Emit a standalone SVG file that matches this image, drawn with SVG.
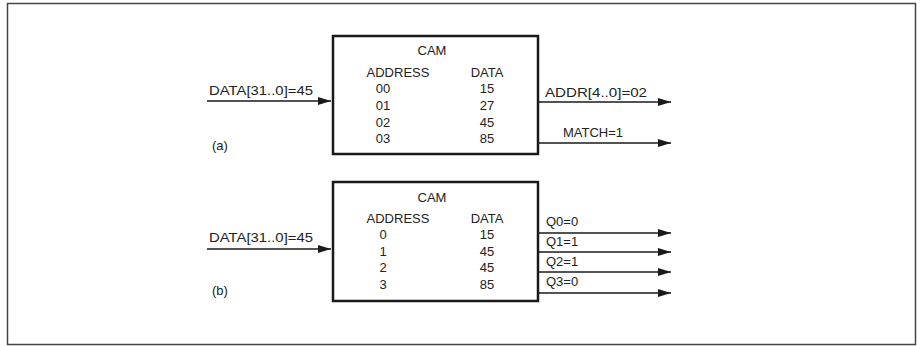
<svg xmlns="http://www.w3.org/2000/svg" width="924" height="346" viewBox="0 0 924 346">
<style>
text{font-family:"Liberation Sans",Arial,sans-serif;font-size:13px;fill:#222}
.m{text-anchor:middle}
.box{fill:#fff;stroke:#1a1a1a;stroke-width:2.5}
.w{stroke:#1a1a1a;stroke-width:1.6;fill:none}
</style>
<defs>
<marker id="ah" markerUnits="userSpaceOnUse" markerWidth="14" markerHeight="10" refX="13" refY="5" orient="auto">
<path d="M0,1 L13,5 L0,9 Z" fill="#1a1a1a"/>
</marker>
</defs>
<rect x="7.5" y="3.5" width="908" height="341" fill="#fff" stroke="#444" stroke-width="1.5"/>
<g id="connectors">
<line class="w" x1="207" y1="101" x2="331" y2="101" marker-end="url(#ah)"/>
<line class="w" x1="538" y1="102" x2="671" y2="102" marker-end="url(#ah)"/>
<line class="w" x1="538" y1="143" x2="671" y2="143" marker-end="url(#ah)"/>
<line class="w" x1="207" y1="249" x2="331" y2="249" marker-end="url(#ah)"/>
<line class="w" x1="538" y1="233" x2="671" y2="233" marker-end="url(#ah)"/>
<line class="w" x1="538" y1="252" x2="671" y2="252" marker-end="url(#ah)"/>
<line class="w" x1="538" y1="272" x2="671" y2="272" marker-end="url(#ah)"/>
<line class="w" x1="538" y1="293" x2="671" y2="293" marker-end="url(#ah)"/>
</g>
<g id="labels">
<text x="209" y="95" textLength="104" lengthAdjust="spacingAndGlyphs">DATA[31..0]=45</text>
<text x="545" y="97" textLength="102" lengthAdjust="spacingAndGlyphs">ADDR[4..0]=02</text>
<text x="563" y="137">MATCH=1</text>
<text x="212" y="150">(a)</text>
<text x="209" y="242" textLength="104" lengthAdjust="spacingAndGlyphs">DATA[31..0]=45</text>
<text x="546" y="226">Q0=0</text>
<text x="546" y="246">Q1=1</text>
<text x="546" y="266">Q2=1</text>
<text x="546" y="286">Q3=0</text>
<text x="212" y="295">(b)</text>
</g>
<g id="cam-a">
<rect class="box" x="333" y="36" width="205" height="118"/>
<text class="m" x="432" y="55">CAM</text>
<text class="m" x="398" y="77">ADDRESS</text>
<text class="m" x="487" y="77">DATA</text>
<text class="m" x="383" y="93">00</text>
<text class="m" x="383" y="110">01</text>
<text class="m" x="383" y="127">02</text>
<text class="m" x="383" y="143">03</text>
<text class="m" x="487" y="93">15</text>
<text class="m" x="487" y="110">27</text>
<text class="m" x="487" y="127">45</text>
<text class="m" x="487" y="143">85</text>
</g>
<g id="cam-b">
<rect class="box" x="333" y="182" width="205" height="119"/>
<text class="m" x="432" y="202">CAM</text>
<text class="m" x="398" y="223">ADDRESS</text>
<text class="m" x="487" y="223">DATA</text>
<text class="m" x="383" y="239">0</text>
<text class="m" x="383" y="256">1</text>
<text class="m" x="383" y="272">2</text>
<text class="m" x="383" y="289">3</text>
<text class="m" x="487" y="239">15</text>
<text class="m" x="487" y="256">45</text>
<text class="m" x="487" y="272">45</text>
<text class="m" x="487" y="289">85</text>
</g>
</svg>
